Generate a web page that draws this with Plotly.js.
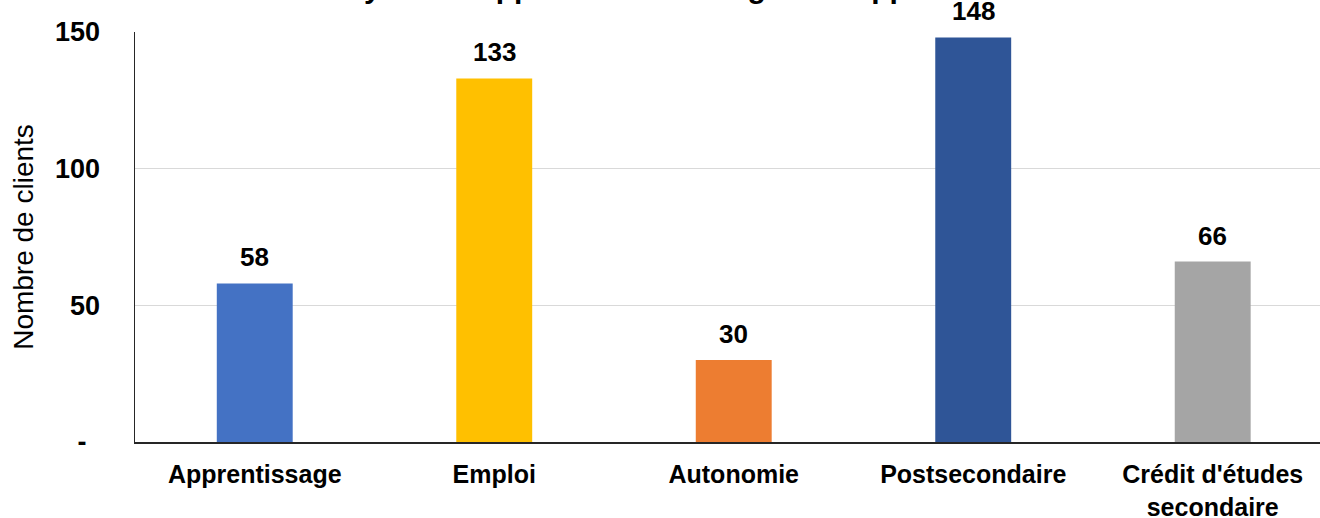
<!DOCTYPE html>
<html>
<head>
<meta charset="utf-8">
<script src="https://cdn.plot.ly/plotly-3.0.1.min.js"></script>
<style>html,body{margin:0;padding:0;background:#fff;}#chart{width:1320px;height:518px;}</style>
</head>
<body>
<div id="chart"></div>
<script>
const categories = ["Apprentissage", "Emploi", "Autonomie", "Postsecondaire", "Crédit d'études<br>secondaire"];
const values = [58, 133, 30, 148, 66];
const barColors = ["#4472C4", "#FFC000", "#ED7D31", "#2F5597", "#A5A5A5"];
const yTickValues = [0, 50, 100, 150];
const yTickLabels = ["-\u2002", "50", "100", "150"];
const chartTitle = "Clients ayant un appui selon la catégorie d'appui";
const yTitle = "Nombre de clients";

const FONT = "Liberation Sans, Arial, sans-serif";

const trace = {
  type: "bar",
  x: categories,
  y: values,
  marker: { color: barColors },
  hoverinfo: "skip"
};

const valueLabels = categories.map((c, i) => ({
  x: c, y: values[i], xref: "x", yref: "y",
  text: String(values[i]),
  showarrow: false, yanchor: "bottom", yshift: 9,
  font: { family: FONT, size: 26, color: "#000", weight: "bold" }
}));

const titleAnn = {
  xref: "paper", yref: "paper", x: 0.086, y: 1, xanchor: "left", yanchor: "bottom",
  yshift: 26, showarrow: false, text: chartTitle,
  font: { family: FONT, size: 30, color: "#000", weight: "bold" }
};

const layout = {
  width: 1320, height: 518,
  margin: { l: 135, r: 0, t: 32, b: 76 },
  paper_bgcolor: "#fff", plot_bgcolor: "#fff",
  showlegend: false,
  bargap: 0.683,
  font: { family: FONT, color: "#000" },
  xaxis: {
    type: "category",
    range: [-0.5, 4.448],
    showline: true, linecolor: "#262626", linewidth: 2,
    showgrid: false, ticks: "",
    ticklabelstandoff: 9,
    tickfont: { family: FONT, size: 25, color: "#000", weight: "bold" },
    fixedrange: true
  },
  yaxis: {
    range: [0, 150],
    tickvals: yTickValues, ticktext: yTickLabels,
    showline: true, linecolor: "#262626", linewidth: 1.5,
    showgrid: true, gridcolor: "#d9d9d9", gridwidth: 1,
    zeroline: false, ticks: "",
    ticklabelstandoff: 28,
    tickfont: { family: FONT, size: 27, color: "#000", weight: "bold" },
    title: { text: yTitle, standoff: 13, font: { family: FONT, size: 28, color: "#000" } },
    fixedrange: true
  },
  annotations: valueLabels.concat([titleAnn])
};

Plotly.newPlot("chart", [trace], layout, { displayModeBar: false, staticPlot: true });
</script>
</body>
</html>
